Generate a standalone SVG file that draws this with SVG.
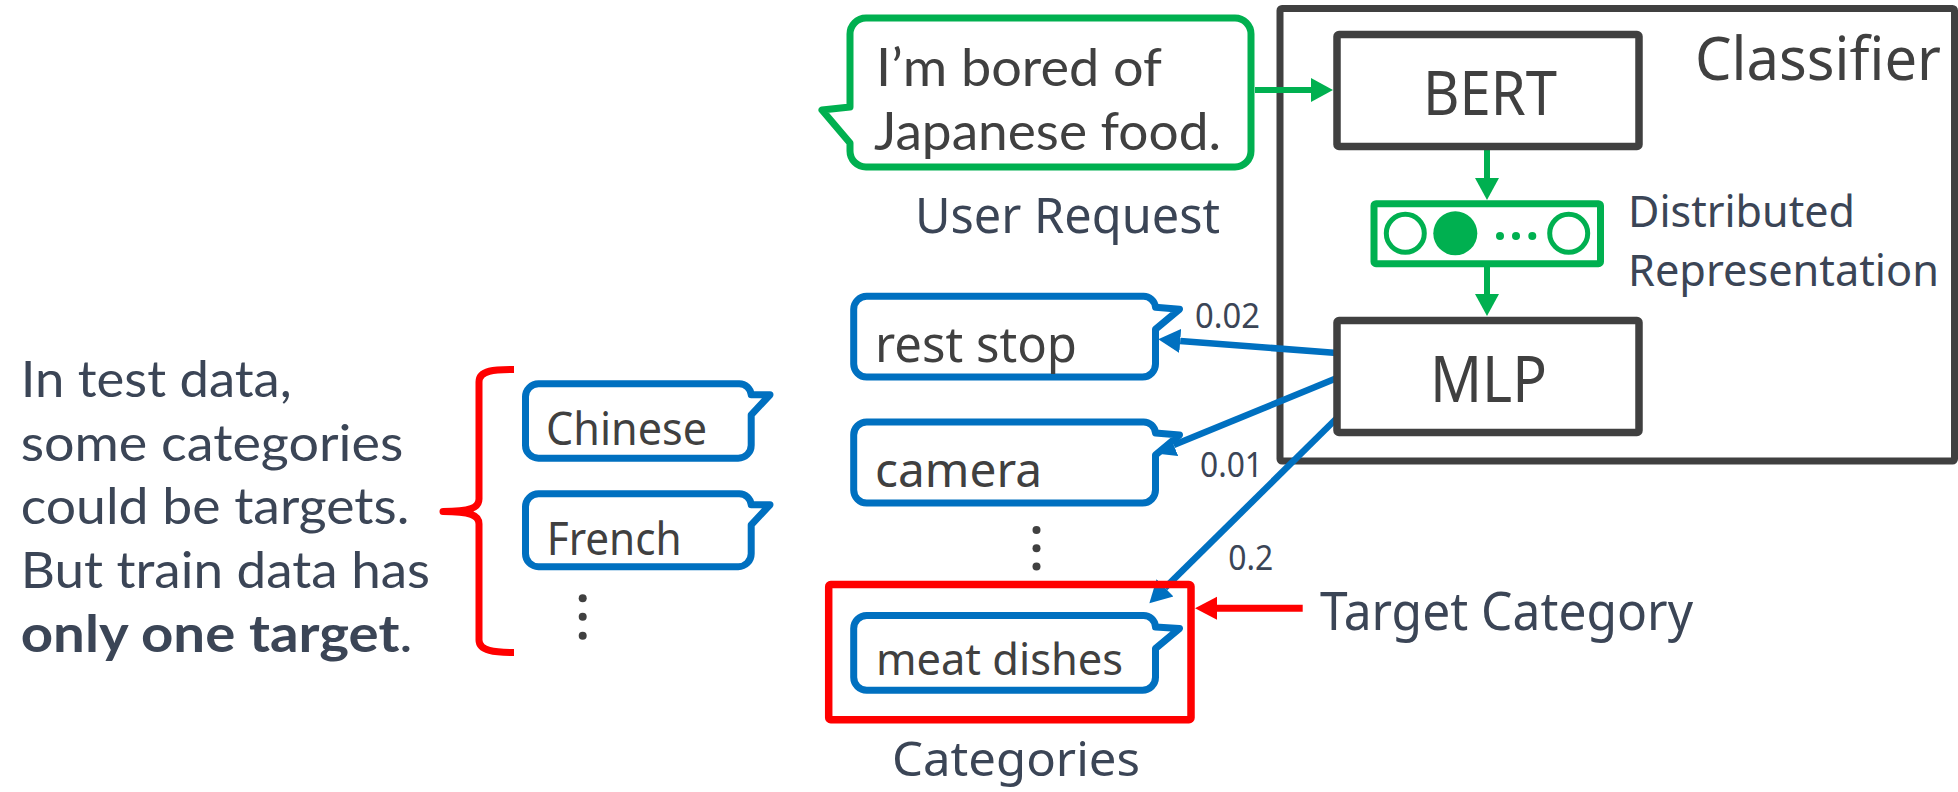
<svg xmlns="http://www.w3.org/2000/svg" width="1958" height="792" viewBox="0 0 1958 792">
<style>
text{font-family:"Noto Sans","Open Sans","DejaVu Sans",sans-serif}
text.lt{font-family:Lato,"Noto Sans",sans-serif}
.dk{fill:#404040}
.sl{fill:#3b4556}
.box{fill:#fff;stroke:#404040;stroke-width:7.5}
.bub{fill:#fff;stroke:#0070C0;stroke-width:7;stroke-linejoin:round}
.gl{stroke:#00B050;stroke-width:6;fill:none}
.bl{stroke:#0070C0;stroke-width:6.5;fill:none}
.rl{stroke:#FF0000;stroke-width:7;fill:none}
.dot{fill:#404040}
</style>
<defs>
<marker id="ahG" markerUnits="userSpaceOnUse" markerWidth="24" markerHeight="26" viewBox="0 -13 24 26" refX="0" refY="0" orient="auto"><path d="M0,-12 L22,0 L0,12 z" fill="#00B050"/></marker>
<marker id="ahB" markerUnits="userSpaceOnUse" markerWidth="24" markerHeight="26" viewBox="0 -13 24 26" refX="0" refY="0" orient="auto"><path d="M0,-12 L22,0 L0,12 z" fill="#0070C0"/></marker>
<marker id="ahR" markerUnits="userSpaceOnUse" markerWidth="24" markerHeight="26" viewBox="0 -13 24 26" refX="0" refY="0" orient="auto"><path d="M0,-11.5 L22,0 L0,11.5 z" fill="#FF0000"/></marker>
</defs>

<g id="classifier">
<rect x="1280" y="8.5" width="674.5" height="452.5" rx="2" fill="#fff" stroke="#404040" stroke-width="7"/>
<text class="dk" x="1695" y="80" font-size="60" textLength="246" lengthAdjust="spacingAndGlyphs">Classifier</text>
</g>

<g id="connectors">
<line class="gl" x1="1255" y1="90" x2="1311" y2="90" marker-end="url(#ahG)"/>
<line class="gl" x1="1487" y1="150" x2="1487" y2="178" marker-end="url(#ahG)"/>
<line class="gl" x1="1487" y1="267" x2="1487" y2="294" marker-end="url(#ahG)"/>
<line class="bl" x1="1337" y1="353" x2="1180.2" y2="341" marker-end="url(#ahB)"/>
<line class="bl" x1="1337" y1="378" x2="1173.7" y2="445" marker-end="url(#ahB)"/>
<line class="bl" x1="1337" y1="418" x2="1165" y2="587.9" marker-end="url(#ahB)"/>
<line class="rl" x1="1302.7" y1="608.3" x2="1217" y2="608.3" marker-end="url(#ahR)"/>
<text class="sl" x="1195" y="328.3" font-size="35" textLength="65" lengthAdjust="spacingAndGlyphs">0.02</text>
<text class="sl" x="1200" y="476.7" font-size="35" textLength="63" lengthAdjust="spacingAndGlyphs">0.01</text>
<text class="sl" x="1228.3" y="570" font-size="35" textLength="45" lengthAdjust="spacingAndGlyphs">0.2</text>
</g>

<g id="user-request">
<path d="M866,18 H1235 A16,16 0 0 1 1251,34 V151 A16,16 0 0 1 1235,167 H866 A16,16 0 0 1 850,151 V143 L822,110 L850,107 V34 A16,16 0 0 1 866,18 Z" fill="#fff" stroke="#00B050" stroke-width="7" stroke-linejoin="round"/>
<text class="dk lt" font-size="53"><tspan x="876" y="86" textLength="286" lengthAdjust="spacingAndGlyphs">I’m bored of</tspan><tspan x="874" y="150" textLength="347" lengthAdjust="spacingAndGlyphs">Japanese food.</tspan></text>
<text class="sl" x="915" y="233" font-size="49" textLength="305" lengthAdjust="spacingAndGlyphs">User Request</text>
</g>

<g id="bert">
<rect class="box" x="1337" y="34.5" width="302" height="112" rx="2"/>
<text class="dk" x="1423" y="115" font-size="62" textLength="134" lengthAdjust="spacingAndGlyphs">BERT</text>
</g>

<g id="distributed-representation">
<rect x="1374" y="203.7" width="226.5" height="60" rx="2" fill="#fff" stroke="#00B050" stroke-width="7"/>
<circle cx="1405.3" cy="233.3" r="19" fill="none" stroke="#00B050" stroke-width="5"/>
<circle cx="1455.3" cy="233.3" r="22" fill="#00B050"/>
<circle cx="1500" cy="236" r="4" fill="#00B050"/>
<circle cx="1516" cy="236" r="4" fill="#00B050"/>
<circle cx="1532.3" cy="236" r="4" fill="#00B050"/>
<circle cx="1568.7" cy="233.3" r="19" fill="none" stroke="#00B050" stroke-width="5"/>
<text class="sl" font-size="44"><tspan x="1628" y="226.7" textLength="227" lengthAdjust="spacingAndGlyphs">Distributed</tspan><tspan x="1628" y="286" textLength="311" lengthAdjust="spacingAndGlyphs">Representation</tspan></text>
</g>

<g id="mlp">
<rect class="box" x="1337" y="320.5" width="302" height="112" rx="2"/>
<text class="dk" x="1430" y="401.7" font-size="63" textLength="117" lengthAdjust="spacingAndGlyphs">MLP</text>
</g>

<g id="cat-rest-stop">
<path class="bub" d="M866.7,296.3 H1143 A12,12 0 0 1 1155.5,307.3 L1179.5,309.3 L1155.5,329.3 V364 A13,13 0 0 1 1142.5,377 H866.7 A13,13 0 0 1 853.7,364 V309.3 A13,13 0 0 1 866.7,296.3 Z"/>
<text class="dk" x="875" y="361.7" font-size="49" textLength="202" lengthAdjust="spacingAndGlyphs">rest stop</text>
</g>

<g id="cat-camera">
<path class="bub" d="M866.7,422 H1143 A12,12 0 0 1 1155.5,433 L1179.5,435 L1155.5,455 V490 A13,13 0 0 1 1142.5,503 H866.7 A13,13 0 0 1 853.7,490 V435 A13,13 0 0 1 866.7,422 Z"/>
<text class="dk" x="875" y="486.7" font-size="48" textLength="167" lengthAdjust="spacingAndGlyphs">camera</text>
</g>

<g id="cat-more">
<circle class="dot" cx="1036.5" cy="530" r="4"/>
<circle class="dot" cx="1036.5" cy="548.3" r="4"/>
<circle class="dot" cx="1036.5" cy="566.5" r="4"/>
</g>

<g id="target-box">
<rect x="828.7" y="584.5" width="362.3" height="135.2" rx="2" fill="none" stroke="#FF0000" stroke-width="7.5"/>
</g>

<g id="cat-meat-dishes">
<path class="bub" d="M866.7,615.5 H1143 A12,12 0 0 1 1155.5,627 L1179.5,628.5 L1155.5,648.5 V677.3 A13,13 0 0 1 1142.5,690.3 H866.7 A13,13 0 0 1 853.7,677.3 V628.5 A13,13 0 0 1 866.7,615.5 Z"/>
<text class="dk" x="876" y="675" font-size="44" textLength="247" lengthAdjust="spacingAndGlyphs">meat dishes</text>
</g>

<g id="categories-label">
<text class="sl" x="892" y="776" font-size="48" textLength="248" lengthAdjust="spacingAndGlyphs">Categories</text>
</g>

<g id="target-label">
<text class="sl" x="1320" y="630" font-size="52" textLength="373" lengthAdjust="spacingAndGlyphs">Target Category</text>
</g>

<g id="note">
<text class="sl lt" font-size="51"><tspan x="20.7" y="397.3" textLength="271" lengthAdjust="spacingAndGlyphs">In test data,</tspan><tspan x="20.7" y="460.7" textLength="382.6" lengthAdjust="spacingAndGlyphs">some categories</tspan><tspan x="20.7" y="524" textLength="388.6" lengthAdjust="spacingAndGlyphs">could be targets.</tspan><tspan x="20.7" y="588.3" textLength="409.3" lengthAdjust="spacingAndGlyphs">But train data has</tspan><tspan x="20.7" y="651.7" textLength="392" lengthAdjust="spacingAndGlyphs"><tspan font-weight="bold">only one target</tspan>.</tspan></text>
</g>

<g id="brace">
<path d="M514,369.5 C495,369.5 479,370 479,382 L479,499 C479,508 470,511.5 443,511.5 C470,511.5 479,515 479,524 L479,640 C479,651 495,652.5 514,652.5" fill="none" stroke="#FF0000" stroke-width="7" stroke-linejoin="round"/>
</g>

<g id="cat-chinese">
<path class="bub" d="M538.5,383.8 H739 A12,12 0 0 1 751.2,394.8 L770,394.8 L751.2,414.8 V445.2 A13,13 0 0 1 738.2,458.2 H538.5 A13,13 0 0 1 525.5,445.2 V396.8 A13,13 0 0 1 538.5,383.8 Z"/>
<text class="dk" x="546" y="445" font-size="46" textLength="161" lengthAdjust="spacingAndGlyphs">Chinese</text>
</g>

<g id="cat-french">
<path class="bub" d="M538.5,493.8 H739 A12,12 0 0 1 751.2,504.8 L770,504.8 L751.2,524.8 V553.7 A13,13 0 0 1 738.2,566.7 H538.5 A13,13 0 0 1 525.5,553.7 V506.8 A13,13 0 0 1 538.5,493.8 Z"/>
<text class="dk" x="546.7" y="555" font-size="46" textLength="135" lengthAdjust="spacingAndGlyphs">French</text>
</g>

<g id="cat-more-left">
<circle class="dot" cx="582.7" cy="598.3" r="4"/>
<circle class="dot" cx="582.7" cy="616.7" r="4"/>
<circle class="dot" cx="582.7" cy="635.7" r="4"/>
</g>
</svg>
